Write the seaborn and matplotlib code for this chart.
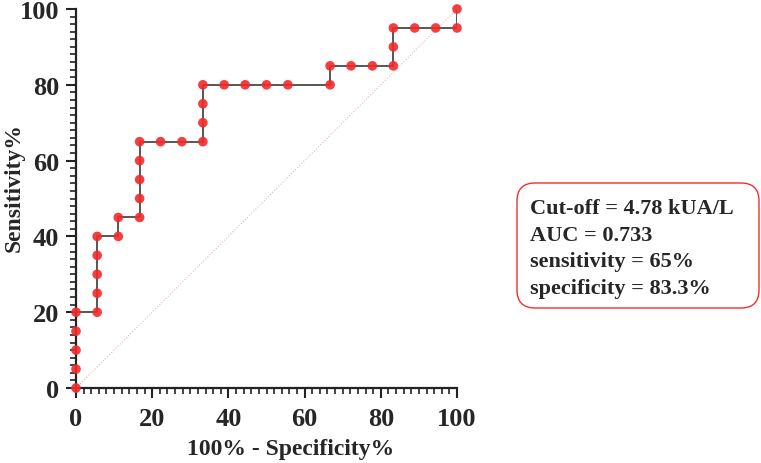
import pandas as pd
import seaborn as sns
import matplotlib.pyplot as plt
from matplotlib.patches import FancyBboxPatch
from matplotlib.transforms import IdentityTransform
from matplotlib.ticker import MultipleLocator

# ROC points: 100% - specificity (x) and sensitivity (y)
fpr = [0, 0, 0, 0, 0,
       5.56, 5.56, 5.56, 5.56, 5.56,
       11.1, 11.1,
       16.7, 16.7, 16.7, 16.7, 16.7,
       22.2, 27.8,
       33.3, 33.3, 33.3, 33.3,
       38.9, 44.4, 50.0, 55.6,
       66.7, 66.7,
       72.2, 77.8,
       83.3, 83.3, 83.3,
       88.9, 94.4,
       100, 100]
tpr = [0, 5, 10, 15, 20,
       20, 25, 30, 35, 40,
       40, 45,
       45, 50, 55, 60, 65,
       65, 65,
       65, 70, 75, 80,
       80, 80, 80, 80,
       80, 85,
       85, 85,
       85, 90, 95,
       95, 95,
       95, 100]
ref_x = [0, 100]
ref_y = [0, 100]
box_lines = ["Cut-off = 4.78 kUA/L", "AUC = 0.733",
             "sensitivity = 65%", "specificity = 83.3%"]

df = pd.DataFrame({"x": fpr, "y": tpr})
ref = pd.DataFrame({"x": ref_x, "y": ref_y})

sns.set_style("ticks")
plt.rcParams["font.family"] = ["Liberation Serif", "DejaVu Serif"]
plt.rcParams["font.weight"] = "bold"

fig = plt.figure(figsize=(7.61, 4.64), dpi=100)
ax = fig.add_axes([76 / 761, 1 - 389 / 464, 381 / 761, 379 / 464])

sns.lineplot(data=ref, x="x", y="y", ax=ax, color="#f2b5b5", lw=0.8,
             linestyle=":", estimator=None, sort=False)
sns.lineplot(data=df, x="x", y="y", ax=ax, color="#3a3a3a", lw=1.2,
             estimator=None, sort=False)
sns.scatterplot(data=df, x="x", y="y", ax=ax, color="#f22a2a", s=48,
                edgecolor="none", alpha=0.9, zorder=5)
for c in ax.collections:
    c.set_clip_on(False)

ax.set_xlim(0, 100)
ax.set_ylim(0, 100)
ax.xaxis.set_major_locator(MultipleLocator(20))
ax.yaxis.set_major_locator(MultipleLocator(20))
ax.xaxis.set_minor_locator(MultipleLocator(2))
ax.yaxis.set_minor_locator(MultipleLocator(2))
ax.tick_params(which="major", length=7, width=1.5, labelsize=19,
               color="#222222")
ax.tick_params(axis="x", which="major", pad=7)
ax.tick_params(axis="y", which="major", pad=5)
ax.tick_params(which="minor", length=4, width=1.2, color="#222222")
for lab in ax.get_xticklabels() + ax.get_yticklabels():
    lab.set_fontweight("bold")
for s in ["left", "bottom"]:
    ax.spines[s].set_linewidth(1.6)
    ax.spines[s].set_color("#222222")
sns.despine(ax=ax)

ax.set_xlabel("100% - Specificity%", fontsize=17, fontweight="bold")
ax.set_ylabel("Sensitivity%", fontsize=17, fontweight="bold")
ax.xaxis.set_label_coords((291 - 76) / 381, -(450 - 389) / 379)
ax.yaxis.set_label_coords(-(76 - 14) / 381, (389 - 188) / 379)
ax.xaxis.label.set_va("center")
ax.yaxis.label.set_va("center")

box = FancyBboxPatch((517, 155), 242, 125,
                     boxstyle="round,pad=0,rounding_size=18",
                     transform=IdentityTransform(), facecolor="white",
                     edgecolor="#f03030", lw=1.0)
fig.patches.append(box)
for i, line in enumerate(box_lines):
    fig.text(530 / 761, 1 - (209 + 26.7 * i) / 464, line, fontsize=16,
             fontweight="bold", ha="left", va="center")

fig.savefig("out.png", dpi=100)
